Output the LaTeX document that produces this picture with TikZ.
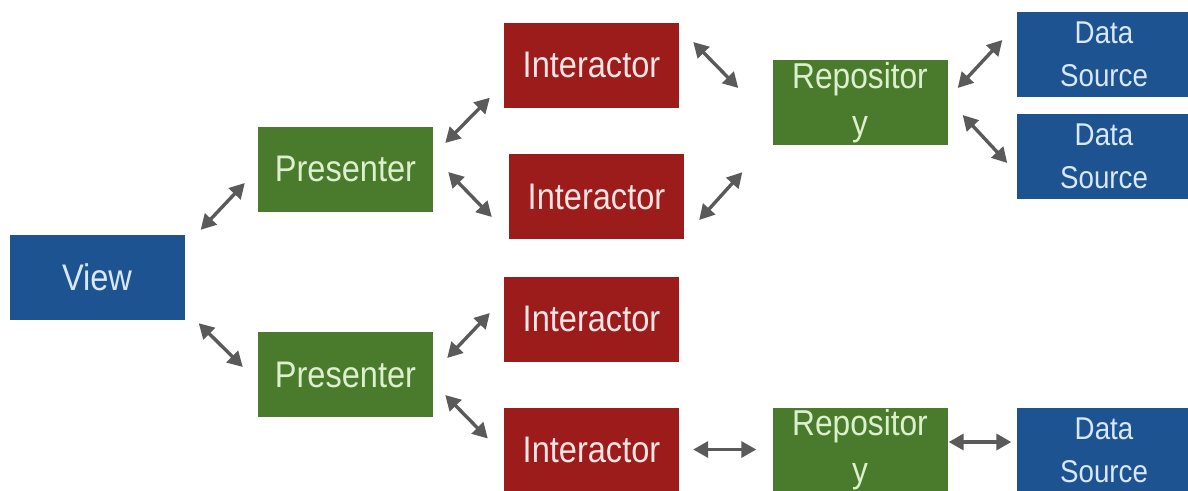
\documentclass[tikz,border=0pt]{standalone}
\usepackage{fontspec}
\setmainfont[FakeStretch=0.88]{Liberation Sans}
\usetikzlibrary{arrows.meta}

\definecolor{layerblue}{HTML}{1E5391}
\definecolor{layergreen}{HTML}{4A7A2B}
\definecolor{layerred}{HTML}{9C1B1B}
\definecolor{bluetext}{HTML}{D8E8F8}
\definecolor{greentext}{HTML}{DDF0CE}
\definecolor{redtext}{HTML}{FBE4E4}
\definecolor{linkgray}{HTML}{5A5A5A}

\begin{document}
\begin{tikzpicture}[x=1pt,y=-1pt,
  box/.style={minimum width=175pt,minimum height=85pt,inner sep=0pt,align=center,
              font=\fontsize{37}{47}\selectfont},
  viewbox/.style={box,fill=layerblue,text=bluetext},
  sourcebox/.style={box,fill=layerblue,text=bluetext,font=\fontsize{31.5}{43}\selectfont},
  presbox/.style={box,fill=layergreen,text=greentext},
  repobox/.style={box,fill=layergreen,text=greentext,font=\fontsize{36}{47}\selectfont},
  interbox/.style={box,fill=layerred,text=redtext},
  link/.style={draw=linkgray,line width=3.4pt,
               {Triangle[length=15pt,width=16pt]}-{Triangle[length=15pt,width=16pt]}}
]
\useasboundingbox (0,0) rectangle (1188,490);
\fill[white] (0,0) rectangle (1188,490);

\begin{scope}
  \clip (0,0) rectangle (1188,490);
  % view and presenters
  \node[viewbox] (view) at (97,277.5) {View};
  \node[presbox] (pres1) at (345.5,169) {Presenter};
  \node[presbox] (pres2) at (345.5,374.5) {Presenter};
  % interactors
  \node[interbox] (int1) at (591.5,65) {Interactor};
  \node[interbox] (int2) at (596.5,196.5) {Interactor};
  \node[interbox] (int3) at (591.5,319) {Interactor};
  \node[interbox] (int4) at (591.5,450) {Interactor};
  % repositories
  \node[repobox] (repo1) at (860,102.5) {Repositor\\y};
  \node[repobox] (repo2) at (860,450) {Repositor\\y};
  % data sources
  \node[sourcebox] (ds1) at (1104,54.5) {Data\\Source};
  \node[sourcebox] (ds2) at (1104,156) {Data\\Source};
  \node[sourcebox] (ds3) at (1104,450) {Data\\Source};
\end{scope}

% two-way links between the layers
\draw[link] ([shift={(16,-5)}]view.north east) -- ([shift={(-13,14)}]pres1.west);
\draw[link] ([shift={(14,3)}]view.south east) -- ([shift={(-15,-7.5)}]pres2.west);

\draw[link] ([shift={(12,-26)}]pres1.east) -- ([shift={(-14,-10)}]int1.south west);
\draw[link] ([shift={(15,3)}]pres1.east) -- ([shift={(-17,20.5)}]int2.west);
\draw[link] ([shift={(14,-16.5)}]pres2.east) -- ([shift={(-14,-6)}]int3.west);
\draw[link] ([shift={(12,20.5)}]pres2.east) -- ([shift={(-16,-11.5)}]int4.west);

\draw[link] ([shift={(14,-23)}]int1.east) -- ([shift={(-34,-14.5)}]repo1.west);
\draw[link] ([shift={(15,23.5)}]int2.east) -- ([shift={(-30,27)}]repo1.south west);
\draw[link] ([shift={(14,-0.5)}]int4.east) -- ([shift={(-16,-0.5)}]repo2.west);

\draw[link] ([shift={(10,-14.5)}]repo1.east) -- ([shift={(-14,-14.5)}]ds1.west);
\draw[link] ([shift={(15,12.5)}]repo1.east) -- ([shift={(-9,7)}]ds2.west);
\draw[link] ([shift={(1,-8)}]repo2.east) -- ([shift={(-5,-8)}]ds3.west);
\end{tikzpicture}
\end{document}
